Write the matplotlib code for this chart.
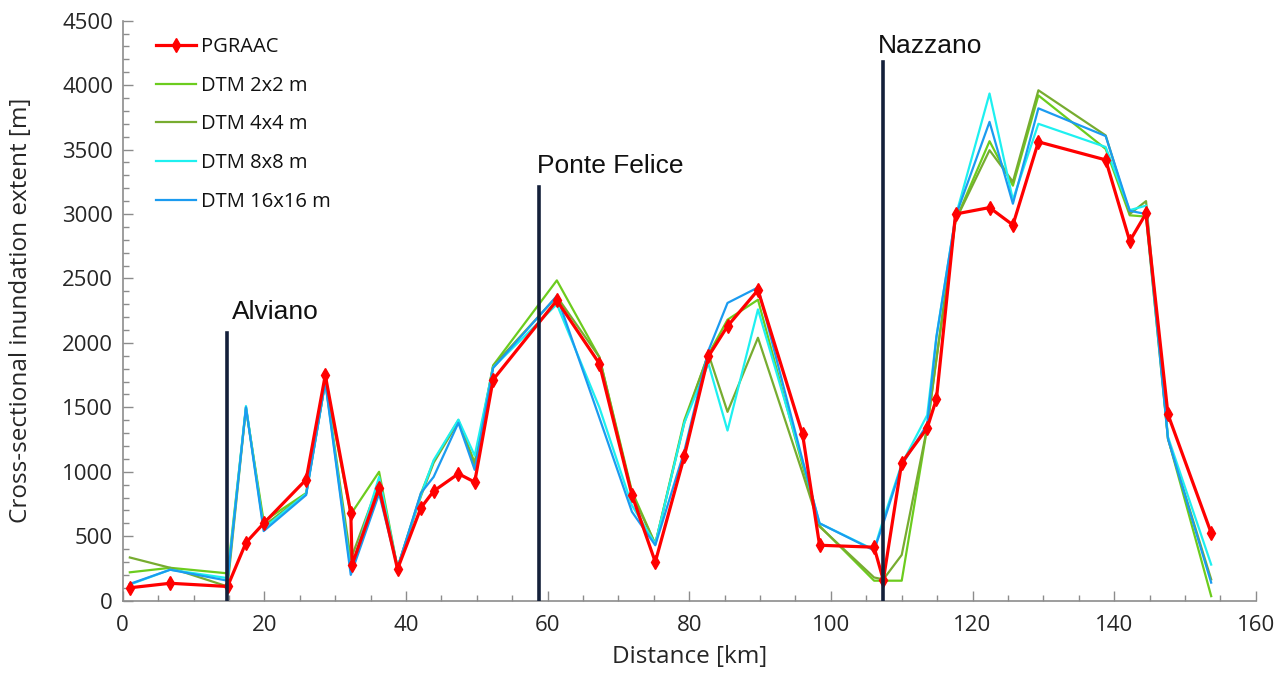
import matplotlib.pyplot as plt
from matplotlib.ticker import MultipleLocator

# distanze lungo il fiume [km]
dist = [1.0, 6.7, 14.8, 17.4, 19.9, 25.9, 28.6, 32.2, 32.4, 36.2, 38.8, 42.1, 43.9, 47.4, 49.7,
        52.3, 61.3, 67.3, 71.9, 75.2, 79.3, 82.7, 85.4, 89.7, 96.0, 98.4, 106.1, 107.4, 110.0,
        113.6, 114.9, 117.6, 122.4, 125.7, 129.3, 138.8, 142.2, 144.5, 147.6, 153.7]
pgraac = [100, 135, 110, 450, 600, 940, 1750, 680, 280, 875, 245, 720, 850, 985, 920,
          1715, 2330, 1840, 820, 300, 1120, 1895, 2130, 2410, 1290, 430, 415, 160, 1070,
          1340, 1565, 3000, 3050, 2915, 3560, 3420, 2790, 3005, 1445, 525]

# i DTM non hanno il doppio punto a 32 km
dist_dtm = [1.0, 6.7, 14.8, 17.4, 19.9, 25.9, 28.6, 32.2, 36.2, 38.8, 42.1, 43.9, 47.4, 49.7,
            52.3, 61.3, 67.3, 71.9, 75.2, 79.3, 82.7, 85.4, 89.7, 96.0, 98.4, 106.1, 107.4, 110.0,
            113.6, 114.9, 117.6, 122.4, 125.7, 129.3, 138.8, 142.2, 144.5, 147.6, 153.7]
dtm_2 = [220, 255, 212, 1490, 615, 835, 1700, 670, 1000, 255, 830, 1080, 1400, 1070,
         1825, 2485, 1890, 850, 440, 1400, 1910, 2180, 2335, 1050, 580, 155, 155, 155,
         1345, 1880, 2950, 3565, 3220, 3920, 3505, 2990, 2980, 1260, 35]
dtm_4 = [335, 255, 110, 1500, 580, 830, 1700, 320, 920, 255, 810, 1070, 1390, 1050,
         1820, 2360, 1890, 830, 440, 1380, 1915, 1465, 2040, 990, 575, 180, 165, 355,
         1345, 1870, 2950, 3495, 3250, 3960, 3610, 3000, 3100, 1255, 165]
dtm_8 = [125, 240, 175, 1510, 560, 830, 1700, 235, 960, 255, 820, 1090, 1405, 1125,
         1810, 2300, 1500, 740, 440, 1380, 1840, 1320, 2260, 1080, 600, 395, 630, 1060,
         1440, 2050, 2980, 3935, 3110, 3700, 3520, 3030, 3065, 1270, 280]
dtm_16 = [130, 240, 155, 1500, 540, 820, 1695, 200, 830, 255, 835, 960, 1380, 1015,
          1805, 2365, 1420, 690, 430, 1160, 1940, 2310, 2430, 1090, 600, 390, 600, 1050,
          1370, 2045, 2980, 3715, 3080, 3820, 3605, 3025, 3000, 1255, 140]

# sezioni di riferimento
places = ['Alviano', 'Ponte Felice', 'Nazzano']
place_km = [14.7, 58.85, 107.3]
place_top = [2074, 3212, 4180]
label_dx = [0.7, -0.3, -0.6]
label_dy = [110, 110, 70]

fig = plt.figure(figsize=(12.88, 6.74), dpi=100)
ax = fig.add_axes([0.0953, 0.1088, 0.8797, 0.8605])

ax.plot(dist, pgraac, color='#ff0000', lw=2.3, marker='d', ms=7.5, label='PGRAAC', zorder=5)
ax.plot(dist_dtm, dtm_2, color='#6ccc1e', lw=1.6, label='DTM 2x2 m', zorder=3)
ax.plot(dist_dtm, dtm_4, color='#77ac30', lw=1.6, label='DTM 4x4 m', zorder=3)
ax.plot(dist_dtm, dtm_8, color='#1ef0f0', lw=1.6, label='DTM 8x8 m', zorder=3)
ax.plot(dist_dtm, dtm_16, color='#1b9bf0', lw=1.6, label='DTM 16x16 m', zorder=4)

for name, km, top, dx, dy in zip(places, place_km, place_top, label_dx, label_dy):
    ax.plot([km, km], [0, top], color='#14203a', lw=2.6, zorder=6)
    ax.text(km + dx, top + dy, name, fontsize=19, family='Liberation Sans',
            ha='left', va='baseline', color='#111111')

ax.set_xlim(0, 160)
ax.set_ylim(0, 4500)
ax.xaxis.set_major_locator(MultipleLocator(20))
ax.xaxis.set_minor_locator(MultipleLocator(5))
ax.yaxis.set_major_locator(MultipleLocator(500))
ax.yaxis.set_minor_locator(MultipleLocator(100))

for s in ['top', 'right']:
    ax.spines[s].set_visible(False)
for s in ['left', 'bottom']:
    ax.spines[s].set_color('#8c8c8c')
    ax.spines[s].set_linewidth(1.2)

ax.tick_params(which='both', direction='in', colors='#8c8c8c', width=1.0)
ax.tick_params(which='major', length=7, labelsize=16, labelcolor='#262626')
ax.tick_params(which='minor', length=4)
ax.tick_params(axis='y', pad=7)
ax.tick_params(axis='x', pad=10)
for lab in ax.get_xticklabels() + ax.get_yticklabels():
    lab.set_family('Open Sans')

ax.set_xlabel('Distance [km]', fontsize=17.5, family='Open Sans', color='#262626')
ax.set_ylabel('Cross-sectional inundation extent [m]', fontsize=17.5, family='Open Sans', color='#262626')
ax.xaxis.set_label_coords(0.5, -0.076)
ax.yaxis.set_label_coords(-0.079, 0.5)

leg = ax.legend(loc='upper left', bbox_to_anchor=(156 / 1288, 1 - 37 / 674),
                bbox_transform=fig.transFigure, frameon=False, borderpad=0, borderaxespad=0,
                handlelength=2.0, handletextpad=0.25, labelspacing=0.93,
                prop={'family': 'Open Sans', 'size': 14.5})
for t in leg.get_texts():
    t.set_color('#111111')

fig.savefig('out.png', dpi=100)
